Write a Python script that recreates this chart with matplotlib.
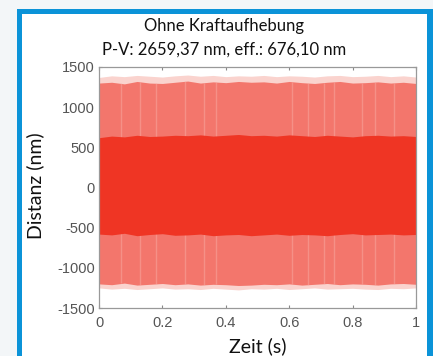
import matplotlib
matplotlib.use("Agg")
import matplotlib.pyplot as plt
from matplotlib.patches import Rectangle
import numpy as np

# ---- data (envelopes) ----
t = [0.00, 0.04, 0.08, 0.12, 0.16, 0.20, 0.24, 0.28, 0.32, 0.36, 0.40, 0.44, 0.48,
     0.52, 0.56, 0.60, 0.64, 0.68, 0.72, 0.76, 0.80, 0.84, 0.88, 0.92, 0.96, 1.00]
fringe_top = [1370, 1390, 1380, 1395, 1385, 1375, 1390, 1400, 1385, 1395, 1380, 1390, 1385,
              1395, 1380, 1390, 1385, 1375, 1390, 1395, 1380, 1385, 1395, 1380, 1390, 1375]
outer_top = [1300, 1310, 1290, 1320, 1300, 1295, 1310, 1325, 1300, 1315, 1305, 1320, 1310,
             1315, 1300, 1320, 1305, 1295, 1310, 1320, 1300, 1305, 1315, 1300, 1310, 1295]
inner_top = [620, 640, 630, 650, 635, 640, 650, 645, 655, 640, 650, 660, 645,
             650, 640, 655, 645, 635, 650, 640, 630, 645, 650, 640, 645, 635]
inner_bottom = [-580, -590, -570, -600, -585, -575, -595, -590, -580, -600, -590, -585, -600,
                -590, -580, -595, -585, -590, -600, -585, -575, -590, -585, -580, -590, -585]
outer_bottom = [-1200, -1210, -1190, -1215, -1205, -1195, -1210, -1200, -1215, -1205, -1210, -1220, -1215,
                -1205, -1210, -1200, -1215, -1205, -1195, -1210, -1200, -1205, -1215, -1200, -1195, -1205]
fringe_bottom = [-1250, -1265, -1255, -1270, -1260, -1250, -1265, -1260, -1270, -1255, -1265, -1275, -1260,
                 -1265, -1255, -1270, -1260, -1250, -1265, -1260, -1255, -1265, -1270, -1255, -1260, -1250]
streak_times = [0.07, 0.13, 0.18, 0.27, 0.33, 0.37, 0.61, 0.66, 0.71, 0.74, 0.83, 0.87, 0.93]

title1 = "Ohne Kraftaufhebung"
title2 = "P-V: 2659,37 nm, eff.: 676,10 nm"
xticks = [0, 0.2, 0.4, 0.6, 0.8, 1]
xticklabels = ["0", "0.2", "0.4", "0.6", "0.8", "1"]
yticks = [-1500, -1000, -500, 0, 500, 1000, 1500]
yticklabels = ["-1500", "-1000", "-500", "0", "500", "1000", "1500"]

W, H = 433, 356
fig = plt.figure(figsize=(W / 100, H / 100), dpi=100)
fig.patch.set_facecolor("#f3f6f8")

def fx(px):
    return px / W

def fy(py):
    return 1 - py / H

# blue frame and white panel
fig.patches.append(Rectangle((fx(17), 0), fx(433) - fx(17), fy(9), transform=fig.transFigure,
                             facecolor="#0b93d8", edgecolor="none", zorder=-3))
fig.patches.append(Rectangle((fx(22), 0), fx(427) - fx(22), fy(14), transform=fig.transFigure,
                             facecolor="white", edgecolor="none", zorder=-2))

ax = fig.add_axes([fx(99), fy(308), fx(416) - fx(99), fy(67) - fy(308)])
ax.set_zorder(5)
ax.set_facecolor("white")

ax.fill_between(t, fringe_bottom, fringe_top, color="#fad3ce", lw=0, zorder=1)
ax.fill_between(t, outer_bottom, outer_top, color="#f3766c", lw=0, zorder=2)
st_lo = np.interp(streak_times, t, outer_bottom)
st_hi = np.interp(streak_times, t, outer_top)
ax.vlines(streak_times, st_lo, st_hi, color="#f8b0a9", lw=1.0, alpha=0.45, zorder=2.5)
ax.fill_between(t, inner_bottom, inner_top, color="#ef3524", lw=0, zorder=3)

ax.set_xlim(0, 1)
ax.set_ylim(-1500, 1500)
ax.set_xticks(xticks)
ax.set_xticklabels(xticklabels)
ax.set_yticks(yticks)
ax.set_yticklabels(yticklabels)
for lab in ax.get_xticklabels() + ax.get_yticklabels():
    lab.set_fontfamily("Liberation Sans")
    lab.set_fontsize(10.5)
    lab.set_color("#555555")
ax.tick_params(direction="in", length=2.5, width=0.8, color="#888888",
               top=True, right=True, pad=3)
ax.tick_params(axis="x", pad=6)
for s in ax.spines.values():
    s.set_color("#999999")
    s.set_linewidth(0.9)
    s.set_zorder(5)

title_font = "Lato"
fig.text(fx(224), fy(26), title1, ha="center", va="center", fontsize=12,
         family=title_font, color="#111111")
fig.text(fx(224), fy(50), title2, ha="center", va="center", fontsize=12,
         family=title_font, color="#111111")
fig.text(fx(258), fy(346), "Zeit (s)", ha="center", va="center", fontsize=14,
         family=title_font, color="#111111")
fig.text(fx(35), fy(186), "Distanz (nm)", ha="center", va="center", fontsize=14,
         family=title_font, color="#111111", rotation=90)

fig.savefig("out.png", dpi=100, facecolor=fig.get_facecolor())
